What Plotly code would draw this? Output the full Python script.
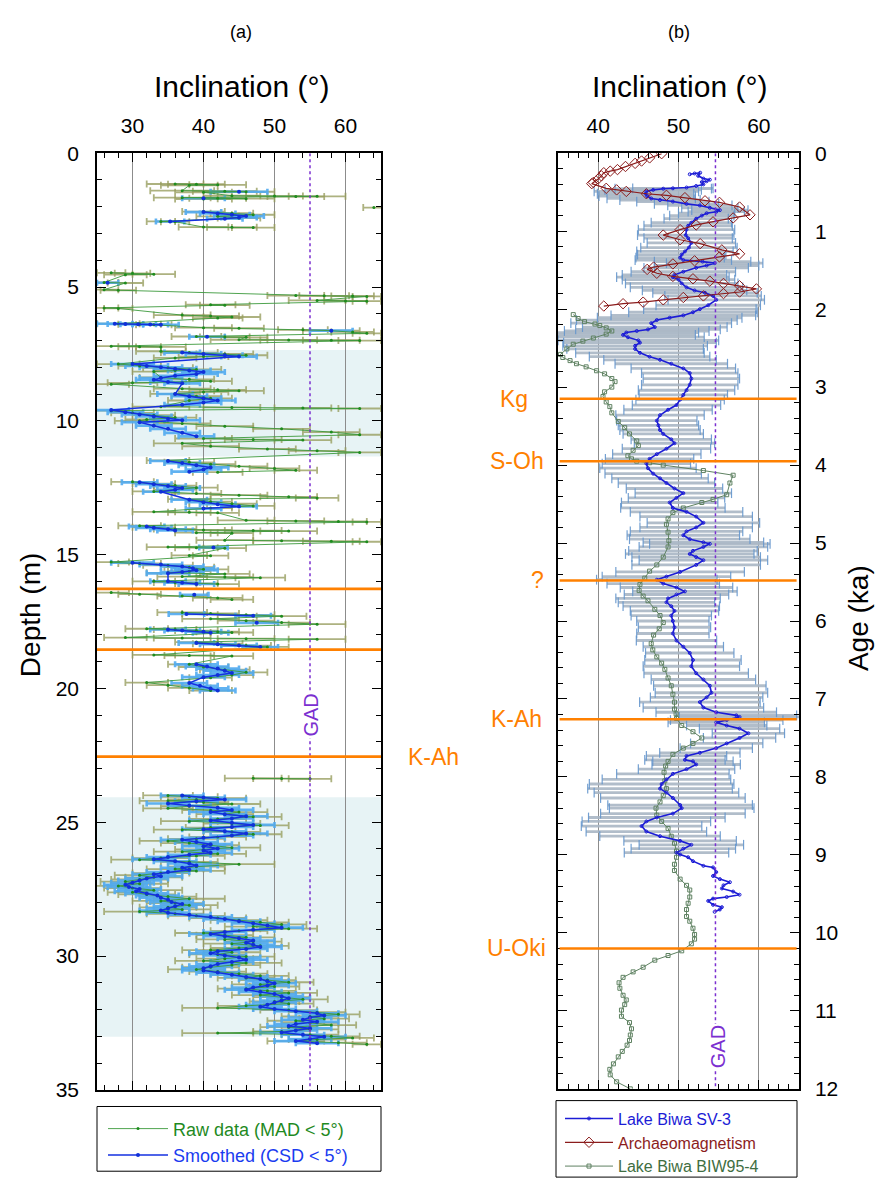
import plotly.graph_objects as go

# ---------------- Panel (a): depth profile ----------------
raw_depth = [
    1.15, 1.16, 1.18, 1.20, 1.40, 1.42, 1.44, 1.46, 1.59, 1.60, 1.61, 1.62, 1.66, 1.68, 1.70, 1.71, None,
    2.03, None,
    2.18, 2.24, 2.30, 2.36, 2.42, 2.55, 2.56, 2.76, 2.77, 2.78, None,
    4.47, 4.49, 4.52, 4.54, 4.83, 4.85, 5.10, 5.12, 5.32, 5.33, 5.34, 5.35, 5.50, 5.52, 5.53, 5.66, 5.68, 5.78, 5.80,
    6.05, 6.08, 6.12, 6.16, 6.37, 6.39, 6.41, 6.52, 6.54, 6.60, 6.63, 6.68, 6.73, 6.85, 6.87, 6.88, 6.97, 6.98, 6.99, 7.00,
    7.21, 7.23, 7.24,
    7.40, 7.45, 7.50, 7.55, 7.60, 7.65, 7.88, 7.95, 8.02, 8.08, 8.12, 8.16, 8.38, 8.45, 8.52, 8.58, 8.63,
    8.80, 8.84, 8.88, 8.92, 8.99, 9.08, 9.16, 9.24, 9.47, 9.50, 9.52, 9.54,
    9.62, 9.70, 9.79, 9.88, 9.95, 10.00, 10.10, 10.20, 10.30, 10.42, 10.52, 10.66, 10.70, 10.72,
    10.84, 10.95, 11.05, 11.12, 11.18, 11.48, 11.55, 11.62, 11.70, 11.78, 11.85, 11.92, None,
    12.28, 12.35, 12.42, 12.50, 12.57, 12.64, 12.72, 12.78, 12.84, 12.88,
    12.93, 13.02, 13.10, 13.18, 13.26, 13.40, 13.42, 13.44, 13.72, 13.74, 13.76, 13.78,
    13.92, 13.98, 14.04, 14.08, 14.10, 14.12, 14.18, 14.20, 14.46, 14.48, 14.50, 14.52,
    14.72, 14.74, 14.76, 15.03, 15.04,
    15.28, 15.33, 15.40, 15.47, 15.55, 15.62, 15.68, 15.72, 15.82, 15.84, 15.86, 16.00, 16.04, 16.08, 16.10, None,
    16.42, 16.48, 16.55, 16.62, 16.68, None,
    17.16, 17.20, 17.25, 17.30, 17.40, 17.47, 17.54, 17.60, 17.77, 17.80, 17.84, 17.88, 17.91,
    18.10, 18.12, 18.14, 18.16, 18.27, 18.33, 18.40, 18.45, 18.75, 18.77, 18.79,
    19.10, 19.20, 19.30, 19.40, 19.50, 19.60, 19.78, 19.88, 19.98, 20.08, None,
    23.36, 23.37, 23.38, None,
    24.00, 24.05, 24.10, 24.15, 24.20, 24.25, 24.32, 24.40, 24.48, 24.55,
    24.62, 24.70, 24.80, 24.88, 24.96, 25.05, 25.12, 25.20, 25.28, 25.36,
    25.45, 25.55, 25.62, 25.70, 25.78, 25.86, 25.95, 26.02, 26.10, 26.18,
    26.26, 26.34, 26.40, 26.48, 26.57, 26.66, 26.75, 26.82, 26.90, 26.98,
    27.06, 27.14, 27.22, 27.30, 27.38, 27.46, 27.54, 27.62, 27.70, 27.78,
    27.86, 27.94, 28.02, 28.10, 28.18, 28.26, 28.34, 28.42, 28.50, 28.58,
    28.66, 28.74, 28.82, 28.90, 28.98, 29.06, 29.14, 29.22, 29.30, 29.38,
    29.46, 29.54, 29.62, 29.70, 29.78, 29.86, 29.94, 30.02, 30.10, 30.18,
    30.26, 30.34, 30.42, 30.50, 30.58, 30.66, 30.74, 30.82, 30.90, 30.98,
    31.06, 31.14, 31.22, 31.30, 31.38, 31.46, 31.54, 31.62, 31.70, 31.78,
    31.86, 31.94, 32.02, 32.10, 32.18, 32.26, 32.34, 32.42, 32.50, 32.58,
    32.66, 32.74, 32.82, 32.88, 32.94, 33.00, 33.06, 33.12, 33.18, 33.24,
    33.30,
]
raw_inc = [
    36, 39, 42, 38, 37, 43, 46, 40, 44, 50, 56, 53, 37, 42, 46, 40, None,
    64, None,
    40, 44, 47, 42, 45, 34, 36, 40, 44, 47, None,
    27, 30, 33, 29, 26, 29, 26, 28, 53, 57, 61, 63, 56, 60, 63, 41, 43, 26, 28,
    37, 41, 44, 42, 28, 31, 33, 40, 45, 54, 58, 61, 63, 39, 43, 46, 45, 52, 58, 62,
    27, 31, 34,
    34, 38, 43, 46, 40, 36, 28, 31, 35, 39, 36, 33, 34, 38, 41, 30, 27,
    37, 42, 45, 40, 36, 39, 41, 38, 34, 44, 54, 62,
    27, 30, 33, 36, 32, 31, 37, 43, 51, 58, 62, 40, 47, 54,
    37, 41, 49, 56, 62, 35, 38, 41, 45, 50, 53, 42, None,
    30, 33, 36, 39, 36, 33, 39, 45, 52, 56,
    38, 41, 44, 47, 41, 33, 38, 42, 46, 53, 59, 63,
    31, 33, 36, 40, 47, 52, 39, 44, 43, 51, 58, 63,
    35, 39, 43, 38, 41,
    27, 31, 35, 38, 40, 38, 35, 43, 37, 43, 48, 33, 36, 39, 42, None,
    27, 31, 37, 42, 44, None,
    37, 41, 46, 51, 41, 46, 51, 56, 32, 36, 39, 42, 44,
    29, 37, 46, 56, 39, 42, 46, 49, 33, 38, 44,
    38, 40, 43, 46, 44, 41, 32, 35, 38, 41, None,
    47, 51, 55, None,
    35, 38, 42, 39, 35, 40, 44, 38, 35, 41,
    45, 43, 47, 42, 38, 44, 48, 41, 37, 44,
    47, 42, 39, 35, 38, 41, 44, 40, 37, 42,
    39, 34, 31, 38, 45, 39, 36, 39, 34, 31,
    33, 31, 29, 31, 28, 30, 33, 30, 32, 35,
    38, 34, 36, 38, 35, 37, 31, 36, 39, 42,
    45, 48, 51, 47, 52, 45, 40, 43, 46, 43,
    47, 44, 48, 45, 41, 44, 42, 46, 43, 40,
    46, 44, 41, 39, 42, 45, 48, 46, 49, 52,
    48, 50, 46, 49, 52, 48, 51, 54, 50, 52,
    46, 42, 52, 56, 59, 55, 57, 53, 55, 58,
    52, 55, 51, 42, 55, 58, 61, 56, 53, 59,
    63,
]
raw_err = [
    4, 4, 4, 4, 4.5, 4.5, 4, 4, 4, 4, 4, 4, 4, 4, 4, 4, None,
    1.5, None,
    3, 3, 3, 3, 3, 2, 2, 3.5, 3.5, 3, None,
    2, 2.5, 3, 3, 2, 2.5, 2, 2.5, 4, 3.5, 3, 2, 4, 3, 2, 3.5, 3.5, 2, 2,
    4, 4, 4, 3.5, 3, 3, 2.5, 4, 3.5, 3.5, 4, 3, 2, 3.5, 3.5, 3, 4, 4, 4, 3,
    2.5, 3, 3.5,
    3.5, 4, 4, 3, 3.5, 3, 3, 3, 3.5, 3.5, 3, 3, 3, 3.5, 3, 3.5, 2.5,
    4, 4, 3.5, 3.5, 3.5, 3.5, 3, 3, 4, 4, 4, 3,
    2.5, 3, 3, 3, 3, 3.5, 4, 4, 4, 4, 3, 4, 4, 4,
    4, 4, 4, 4, 3, 3, 3.5, 3.5, 4, 3.5, 3, 3.5, None,
    3, 3, 3, 3, 3, 3, 3.5, 4, 4, 3,
    3, 3, 3.5, 3, 3, 3, 3, 3, 4, 4, 4, 2,
    3, 3, 3, 4, 4, 4, 3, 3, 4, 4, 4, 2,
    3, 3, 3, 2.5, 2.5,
    2.5, 3, 3.5, 3.5, 3.5, 3, 3, 3.5, 3.5, 4, 3.5, 3, 3, 3, 3, None,
    2.5, 3, 3.5, 3.5, 3, None,
    3.5, 4, 4, 3.5, 4, 4, 4, 4, 3, 3, 3, 3, 3,
    3, 4, 4, 4, 3, 3.5, 3.5, 3, 3, 3.5, 3,
    3, 3.5, 3.5, 3, 3, 3, 3, 3, 3, 3, None,
    4, 4, 3, None,
    3.5, 4, 4, 4, 4, 3.5, 4, 4, 3.5, 4,
    4, 4, 4, 4, 4, 4, 4, 3.5, 4, 4,
    4, 4, 4, 4, 4, 4, 4, 4, 4, 4,
    4, 4, 4, 4, 5, 4, 4, 4, 4, 3.5,
    4, 4, 3.5, 4, 3.5, 4, 4, 3.5, 4, 4,
    5, 4, 4, 4, 4, 4, 5, 4, 4, 4,
    4, 4, 3.5, 4, 4, 4, 4, 4, 4, 4,
    4, 4, 4, 4, 4, 4, 4, 4, 4, 4,
    5, 4, 4, 4, 4, 4, 4, 4, 4, 3.5,
    4, 3.5, 4, 4, 4, 4, 4, 3.5, 3.5, 3.5,
    4, 5, 4, 4, 3, 4, 3.5, 4, 4, 3.5,
    4, 4, 4, 5, 4, 4, 3, 4, 4, 4,
    2,
]

smooth_depth = [
    1.44, None, 1.68, None,
    2.20, 2.25, 2.30, 2.35, 2.40, 2.45, 2.55, None,
    4.84, None,
    6.37, 6.38, 6.39, 6.40, 6.41, None,
    6.63, None, 6.86, None,
    7.45, 7.50, 7.55, 7.60,
    7.88, 7.95, 8.00, 8.05, 8.12, 8.18, 8.25, 8.32, 8.40,
    8.47, 8.55, 8.60,
    9.00, 9.08, 9.16, 9.24, 9.32, 9.40,
    9.60, 9.68, 9.76, 9.84, 9.92, 9.98,
    10.05, 10.18, 10.30, 10.45, 10.58, None,
    11.50, 11.58, 11.66, 11.74, 11.82, 11.90, None,
    12.30, 12.37, 12.44, 12.51, 12.58, 12.65,
    12.95, 13.04, 13.12, 13.20, 13.28, None,
    13.95, 14.00, 14.05, 14.10, None,
    14.73, None,
    15.30, 15.37, 15.44, 15.51, 15.58, 15.65, 15.70,
    16.00, 16.05, 16.10, None,
    16.50, None,
    17.22, 17.28, None, 17.55, None,
    17.80, 17.84, 17.88, 17.92, None,
    18.30, 18.35, 18.40, 18.45, None,
    19.10, 19.18, 19.26, 19.34, 19.42, 19.50, 19.58,
    19.80, 19.90, 20.00, 20.08, None,
    24.00, 24.08, 24.15, 24.22, 24.30, 24.38, 24.46, 24.54, 24.62, 24.70,
    24.78, 24.86, 24.94, 25.02, 25.10, 25.18, 25.26, 25.34, 25.42, 25.50,
    25.58, 25.66, 25.74, 25.82, 25.90, 25.98, 26.06, 26.14, 26.22, 26.30,
    26.38, 26.46, 26.54, 26.62, 26.70, 26.78, 26.86, 26.94, 27.02, 27.10,
    27.18, 27.26, 27.34, 27.42, 27.50, 27.58, 27.66, 27.74, 27.82, 27.90,
    27.98, 28.06, 28.14, 28.22, 28.30, 28.38, 28.46, 28.54, 28.62, 28.70,
    28.78, 28.86, 28.94, 29.02, 29.10, 29.18, 29.26, 29.34, 29.42, 29.50,
    29.58, 29.66, 29.74, 29.82, 29.90, 29.98, 30.06, 30.14, 30.22, 30.30,
    30.38, 30.46, 30.54, 30.62, 30.70, 30.78, 30.86, 30.94, 31.02, 31.10,
    31.18, 31.26, 31.34, 31.42, 31.50, 31.58, 31.66, 31.74, 31.82, 31.90,
    31.98, 32.06, 32.14, 32.22, 32.30, 32.38, 32.46, 32.54, 32.62, 32.70,
    32.78, 32.86, 32.94, 33.02, 33.10, 33.18, 33.26,
]
smooth_inc = [
    45, None, 40, None,
    40, 42, 44, 46, 45, 43, 35.3, None,
    26.5, None,
    27.5, 29, 30.8, 32.5, 34, None,
    58, None, 40.5, None,
    37, 40, 43, 45,
    30, 32, 34, 36, 38, 40, 39, 36, 34,
    33, 35, 37,
    36, 38, 40, 42, 40, 37,
    27, 29, 31, 33, 35, 37,
    31, 33, 35, 37, 39, None,
    35, 37, 39, 41, 40, 38, None,
    31, 33, 35, 37, 36, 34,
    38, 40, 42, 45, 40, None,
    32, 33, 35, 36, None,
    41.4, None,
    30, 34, 37, 38.5, 39, 37, 35,
    35, 37, 39, None,
    38.7, None,
    37.6, 47, None, 47.5, None,
    35, 37, 40, 41, None,
    39, 42, 45, 48, None,
    39, 40.5, 42, 43, 44, 42, 40,
    38, 39.5, 41, 42, None,
    37, 40, 43, 39, 35, 38, 42, 44, 41, 43,
    46, 44, 41, 44, 47, 44, 40, 43, 46, 44,
    40, 37, 39, 41, 40, 42, 40, 41, 38, 35,
    33, 36, 38, 39, 37, 38, 35, 33, 34, 32,
    31, 30, 29, 29.5, 31, 30.5, 32, 33.5, 34, 35,
    35.5, 37, 36, 35, 34, 35, 38, 41, 43, 45,
    47, 49, 51, 47, 43, 41, 43, 45, 47, 46,
    47, 48, 46, 42, 41, 43, 45, 46, 44, 42,
    41, 40, 40, 42, 44, 46, 48, 49, 50, 49,
    47, 46, 48, 50, 51, 52, 51, 50, 49, 48,
    50, 53, 56, 57, 55, 54, 56, 53, 52, 55,
    53, 51, 54, 57, 55, 53, 56,
]
smooth_err = [
    4, None, 3, None,
    2.5, 2.5, 2.5, 2.5, 2.5, 2.5, 2, None,
    1.5, None,
    2.5, 2.5, 2.5, 2.5, 2.5, None,
    3, None, 2.5, None,
    2.5, 2.5, 2.5, 2.5,
    3, 3, 3, 3, 3, 3, 3, 3, 3,
    2.5, 2.5, 2.5,
    2.5, 2.5, 2.5, 2.5, 2.5, 2.5,
    2.5, 2.5, 2.5, 2.5, 2.5, 2.5,
    2.5, 2.5, 2.5, 2.5, 2.5, None,
    2.5, 2.5, 2.5, 2.5, 2.5, 2.5, None,
    2.5, 2.5, 2.5, 2.5, 2.5, 2.5,
    2.5, 2.5, 2.5, 2.5, 2.5, None,
    2.5, 2.5, 2.5, 2.5, None,
    2, None,
    3, 3, 3, 3, 3, 3, 3,
    2.5, 2.5, 2.5, None,
    2, None,
    2.5, 2.5, None, 3, None,
    2.5, 2.5, 2.5, 2.5, None,
    2.5, 2.5, 2.5, 2.5, None,
    3, 3, 3, 3, 3, 3, 3,
    2.5, 2.5, 2.5, 2.5, None,
    3, 3, 3, 3, 3, 3, 3, 3, 3, 3,
    3, 3, 3, 3, 3, 3, 3, 3, 3, 3,
    3, 3, 3, 3, 3, 3, 3, 3, 3, 3,
    3, 3, 3, 3, 3, 3, 3, 3, 3, 3,
    3, 3, 3, 3, 3, 3, 3, 3, 3, 3,
    3, 3, 3, 3, 3, 3, 3, 3, 3, 3,
    3, 3, 3, 3, 3, 3, 3, 3, 3, 3,
    3, 3, 3, 3, 3, 3, 3, 3, 3, 3,
    3, 3, 3, 3, 3, 3, 3, 3, 3, 3,
    3, 3, 3, 3, 3, 3, 3, 3, 3, 3,
    3, 3, 3, 3, 3, 3, 3, 3, 3, 3,
    3, 3, 3, 3, 3, 3, 3,
]

shade_top = [7.35, 11.33]
shade_bottom = [24.07, 33.02]
tephra_a = [16.28, 18.55]
kah_depth = 22.55
gad_a = 55.0

# ---------------- Panel (b): age profile ----------------
sv3_age = [
    0.27, 0.26, 0.25, 0.29, 0.325, 0.34, 0.36, 0.37, 0.40, 0.42, 0.44,
    0.45, 0.455, 0.47, 0.49, 0.52, 0.55, 0.58, 0.60, 0.62, 0.65, 0.67, 0.70, 0.73, 0.75, 0.77,
    0.80, 0.84, 0.89, 0.93, 0.98, 1.05, 1.09, 1.15, 1.21, 1.26, 1.30, 1.34, 1.37, 1.39, 1.41,
    1.44, 1.47, 1.52, 1.56, 1.59, 1.62, 1.67, 1.72, 1.76, 1.79, 1.83, 1.88, 1.95, 2.00, 2.04,
    2.08, 2.11, 2.14, 2.18, 2.23, 2.26, 2.28, 2.30, 2.33, 2.36, 2.40, 2.43, 2.47, 2.51, 2.56,
    2.61, 2.65, 2.70, 2.76, 2.82, 2.89, 2.97, 3.04, 3.10, 3.16, 3.23, 3.29, 3.36, 3.43, 3.49, 3.55,
    3.60, 3.67, 3.72, 3.79, 3.86, 3.92, 3.98, 4.04, 4.11, 4.17, 4.23, 4.30, 4.36, 4.42, 4.48,
    4.55, 4.60, 4.66, 4.74, 4.80, 4.85, 4.90, 4.95, 4.99, 5.01, 5.05, 5.10, 5.14, 5.18, 5.22,
    5.28, 5.37, 5.43, 5.47, 5.52, 5.57, 5.62, 5.66, 5.71, 5.76, 5.81, 5.87, 5.93, 6.00, 6.08,
    6.16, 6.25, 6.33, 6.41, 6.50, 6.58, 6.67, 6.75, 6.83, 6.92, 6.98, 7.04, 7.11, 7.17, 7.21,
    7.23, 7.27, 7.30, 7.34,
    7.38, 7.44, 7.50, 7.57, 7.63, 7.69, 7.73, 7.78, 7.80, 7.84, 7.90, 7.96, 8.03, 8.09, 8.15,
    8.20, 8.27, 8.36, 8.40, 8.47, 8.52, 8.57, 8.63, 8.70, 8.76, 8.82, 8.87, 8.92, 8.97,
    8.995, 9.03, 9.08, 9.14, 9.16, 9.22, 9.27, 9.31, 9.35, 9.39, 9.43, 9.47, 9.51, 9.54, 9.56,
    9.59, 9.64, 9.67, 9.70, 9.73,
]
sv3_inc = [
    51.4, 52.0, 52.7, 52.45, 53.1, 53.9, 53.5, 52.9, 53.1, 52.2, 51.0,
    49.3, 48.1, 46.85, 46.0, 45.9, 46.1, 46.6, 47.7, 49.3, 51.0, 52.66, 53.9, 55.15, 54.7, 53.5,
    52.9, 52.2, 51.6, 51.2, 51.0, 50.9, 51.2, 51.6, 51.3, 50.8, 50.4, 50.2, 50.6, 53.0, 54.5,
    53.5, 52.2, 50.6, 49.5, 49.3, 50.0, 50.4, 51.0, 52.0, 53.3, 54.3, 54.7, 53.7, 52.66, 51.8,
    50.6, 48.9, 47.3, 46.6, 47.05, 46.2, 44.8, 43.5, 43.1, 43.7, 45.0, 45.2, 44.6, 44.6, 45.2,
    46.4, 47.7, 49.1, 50.6, 51.4, 51.6, 51.4, 51.0, 50.6, 50.2, 49.75, 48.7, 47.7, 47.3, 47.5, 47.7,
    48.1, 49.1, 49.5, 48.5, 47.3, 46.4, 46.0, 46.2, 46.85, 47.7, 48.5, 49.5, 50.6, 49.75, 48.9,
    49.3, 51.0, 52.2, 53.1, 52.2, 51.0, 50.6, 51.4, 53.1, 53.9, 53.1, 51.8, 51.4, 52.2, 53.1,
    52.2, 50.2, 48.5, 47.3, 48.1, 49.75, 50.8, 49.75, 48.7, 48.5, 49.1, 49.5, 49.1, 49.3, 49.5,
    49.3, 49.75, 50.6, 51.4, 51.8, 51.6, 52.2, 53.1, 53.9, 54.1, 53.5, 52.66, 53.1, 54.7, 57.2,
    57.6, 56.0, 54.7, 56.0,
    57.6, 58.7, 57.6, 56.0, 54.7, 52.66, 51.0, 50.8, 51.8, 52.2, 51.0, 49.3, 48.5, 47.9, 47.7,
    48.5, 49.3, 50.2, 50.4, 49.3, 47.3, 46.0, 45.4, 46.0, 47.7, 50.2, 51.6, 50.6, 49.75,
    50.2, 51.2, 51.8, 53.1, 54.3, 54.7, 54.3, 55.15, 56.4, 55.6, 55.4, 56.8, 57.6, 56.0, 54.3,
    53.7, 54.3, 55.4, 55.15, 54.5,
]
sv3_err = [
    None, None, None, None, None, None, None, None, None, None, None,
    5, 6, 6, 6.5, 6, 6, 5.5, 5, 4.5, 4, 4, 3.5, 3.5, 3.5, 3.5,
    4, 4, 5, 5.5, 6, 6, 5.5, 5.5, 6, 6, 5.5, 5.5, 6, 6, 6,
    6.5, 6.5, 6.5, 6.5, 7, 7, 7, 7, 6.5, 6.5, 6, 6, 6.5, 7, 8,
    9, 9, 10, 10, 9, 9, 9, 9, 9, 9.5, 10, 9.5, 9, 8.5, 8,
    7.5, 7, 7, 6.5, 6, 6, 6, 6, 5.5, 5.5, 5.5, 5.5, 5.5, 5, 5, 5,
    5, 5, 5, 5.5, 5.5, 5.5, 5.5, 6, 6, 6, 6, 6, 6, 6, 6,
    6.5, 7, 7, 7, 7, 7, 7, 7.5, 7.5, 7.5, 8, 8, 8, 8, 8,
    8, 8, 8, 7.5, 7, 7, 6.5, 6.5, 6.5, 6, 6, 5.5, 5, 4.5, 4.5,
    4.5, 5, 5, 5.5, 6, 6, 6.5, 6.5, 7, 7, 7, 7.5, 7.5, 7.5, 7.5,
    7.5, 7, 6, 5,
    5, 4.5, 4.5, 4.5, 4.5, 5, 5, 5, 5, 5.5, 6, 7, 8, 9, 9,
    9, 9, 9, 9, 9, 8.5, 8, 7.5, 7.5, 7.5, 7, 6.5, 6.5, 6.5,
    None, None, None, None, None, None, None, None, None, None, None, None, None, None, None,
    None, None, None, None, None,
]

arch_age = [
    0.006, 0.06, 0.10, 0.13, 0.17, 0.21, 0.23, 0.25, 0.29, 0.33, 0.375, 0.39, 0.45, 0.47, 0.49,
    0.52, 0.54, 0.57, 0.61, 0.63, 0.69, 0.79, 0.83, 0.88, 0.92, 0.98, 1.05, 1.11, 1.16, 1.24,
    1.29, 1.33, 1.38, 1.42, 1.46, 1.49, 1.54, 1.58, 1.61, 1.64, 1.67, 1.70, 1.74, 1.78, 1.80,
    1.83, 1.85, 1.88, 1.91, 1.93, 1.96,
]
arch_inc = [
    47.9, 46.4, 45.4, 44.6, 43.4, 42.4, 41.5, 40.7, 40.4, 40.0, 39.4, 39.2, 41.0, 42.3, 43.5,
    46.0, 48.5, 50.8, 53.3, 55.1, 57.6, 58.9, 56.8, 54.3, 52.2, 50.2, 48.1, 50.2, 52.7, 55.4,
    57.6, 55.1, 52.0, 49.3, 46.9, 46.1, 47.3, 49.3, 51.8, 53.9, 55.6, 57.6, 59.7, 57.6, 55.6,
    53.1, 50.6, 48.1, 45.6, 43.1, 40.7,
]

biw_age = [
    2.07, 2.12, 2.16, 2.19, 2.21, 2.24, 2.28, 2.32, 2.37, 2.41, 2.45, 2.51, 2.58, 2.62, 2.66,
    2.70, 2.74, 2.79, 2.83, 2.89, 2.93, 3.00, 3.06, 3.12, 3.19, 3.25, 3.33, 3.44, 3.52, 3.60,
    3.69, 3.75, 3.81, 3.88, 3.92, 3.95, 3.97, 4.00, 4.07, 4.13, 4.23, 4.38, 4.44, 4.48, 4.55,
    4.61, 4.69, 4.76, 4.86, 4.97, 5.05, 5.18, 5.28, 5.36, 5.45, 5.53, 5.61, 5.68, 5.74, 5.85,
    5.93, 6.02, 6.10, 6.18, 6.29, 6.37, 6.46, 6.54, 6.62, 6.73, 6.83, 6.94, 7.04, 7.13, 7.19,
    7.25, 7.34, 7.42, 7.50, 7.57, 7.63, 7.71, 7.80, 7.86, 7.94, 8.05, 8.15, 8.24, 8.32, 8.40,
    8.49, 8.57, 8.66, 8.76, 8.85, 8.95, 9.03, 9.12, 9.20, 9.31, 9.39, 9.45, 9.54, 9.62, 9.70,
    9.79, 9.85, 9.94, 10.02, 10.08, 10.14, 10.23, 10.29, 10.35, 10.44, 10.50, 10.57, 10.64, 10.71, 10.80,
    10.86, 10.92, 10.99, 11.07, 11.15, 11.23, 11.31, 11.38, 11.44, 11.52, 11.59, 11.68, 11.75, 11.82, 11.91,
    12.0,
]
biw_inc = [
    36.9, 37.5, 38.3, 39.6, 40.2, 41.0, 41.7, 41.0, 39.4, 38.1, 36.9, 36.1, 35.3, 35.6, 36.5,
    37.3, 38.5, 39.8, 40.8, 41.7, 42.1, 41.7, 40.8, 40.6, 41.0, 41.45, 41.7, 42.5, 43.3, 43.9,
    44.8, 45.0, 44.35, 43.7, 44.15, 44.8, 46.4, 48.1, 53.1, 56.8, 56.4, 56.0, 54.3, 52.9, 50.6,
    49.3, 48.7, 48.5, 48.7, 48.8, 48.7, 48.1, 47.3, 46.4, 45.8, 45.2, 45.1, 45.6, 46.2, 47.05,
    47.7, 48.1, 47.6, 46.9, 46.6, 46.8, 47.3, 47.9, 48.3, 48.7, 49.1, 49.3, 49.5, 49.5, 49.7,
    49.75, 50.4, 51.8, 52.9, 51.8, 50.6, 49.3, 48.7, 48.4, 48.2, 48.3, 48.5, 48.1, 47.7, 47.2,
    47.3, 47.9, 48.7, 49.1, 49.5, 49.75, 49.75, 49.5, 49.5, 50.2, 51.0, 51.4, 51.4, 51.2, 51.0,
    51.0, 51.4, 51.8, 52.0, 52.0, 51.6, 50.4, 48.7, 47.05, 45.6, 44.35, 43.1, 42.6, 42.7, 43.1,
    43.5, 43.3, 42.9, 42.9, 43.9, 44.15, 44.0, 43.9, 43.6, 43.0, 42.5, 41.9, 41.45, 41.5, 42.3,
    44.0,
]

tephra_b_age = [3.15, 3.95, 5.48, 7.26, 10.2]
tephra_b_name = ["Kg", "S-Oh", "?", "K-Ah", "U-Oki"]
tephra_b_xpx = [514, 517, 537, 516, 516]
gad_b = 54.6

assert len(raw_depth) == len(raw_inc) == len(raw_err)
assert len(smooth_depth) == len(smooth_inc) == len(smooth_err)
assert len(sv3_age) == len(sv3_inc) == len(sv3_err)
assert len(arch_age) == len(arch_inc)
assert len(biw_age) == len(biw_inc)

# ---------------- layout helpers ----------------
W, H = 882, 1193
FONT = "Liberation Sans, Arial, Helvetica, sans-serif"
ORANGE = "#ff8000"
PURPLE = "#7b2fd0"


def fx(p):
    return p / W


def fy(p):
    return 1 - p / H


fig = go.Figure()

# Panel (a)
fig.add_trace(go.Scatter(
    x=raw_inc, y=raw_depth, mode="markers", xaxis="x", yaxis="y",
    marker=dict(size=1, color="rgba(0,0,0,0)"),
    error_x=dict(type="data", array=raw_err, color="rgba(150,156,92,0.78)", thickness=1.8, width=3.5),
    showlegend=False, hoverinfo="skip"))
fig.add_trace(go.Scatter(
    x=smooth_inc, y=smooth_depth, mode="markers", xaxis="x", yaxis="y",
    marker=dict(size=1, color="rgba(0,0,0,0)"),
    error_x=dict(type="data", array=smooth_err, color="rgba(80,170,240,0.9)", thickness=2.6, width=3),
    showlegend=False, hoverinfo="skip"))
fig.add_trace(go.Scatter(
    x=raw_inc, y=raw_depth, mode="lines+markers", xaxis="x", yaxis="y",
    line=dict(color="#3c9a3c", width=0.9),
    marker=dict(color="#1e8c1e", size=3),
    name='<span style="color:#1f8a1f">Raw data (MAD &lt; 5°)</span>', legend="legend"))
fig.add_trace(go.Scatter(
    x=smooth_inc, y=smooth_depth, mode="lines+markers", xaxis="x", yaxis="y",
    line=dict(color="#1530e0", width=1.5),
    marker=dict(color="#1030d8", size=4, symbol="circle"),
    name='<span style="color:#1a3cf0">Smoothed (CSD &lt; 5°)</span>', legend="legend"))

# Panel (b)
fig.add_trace(go.Scatter(
    x=sv3_inc, y=sv3_age, mode="markers", xaxis="x2", yaxis="y2",
    marker=dict(size=1, color="rgba(0,0,0,0)"),
    error_x=dict(type="data", array=sv3_err, color="rgba(168,182,196,0.9)", thickness=2.8, width=0),
    showlegend=False, hoverinfo="skip"))
cap_x = [i - e for i, e in zip(sv3_inc, sv3_err) if e is not None] + \
        [i + e for i, e in zip(sv3_inc, sv3_err) if e is not None]
cap_y = [a for a, e in zip(sv3_age, sv3_err) if e is not None] * 2
fig.add_trace(go.Scatter(
    x=cap_x, y=cap_y, mode="markers", xaxis="x2", yaxis="y2",
    marker=dict(symbol="line-ns", size=7, line=dict(color="rgba(100,150,205,0.9)", width=1.2)),
    showlegend=False, hoverinfo="skip"))
fig.add_trace(go.Scatter(
    x=biw_inc, y=biw_age, mode="lines+markers", xaxis="x2", yaxis="y2",
    line=dict(color="#5f8262", width=1),
    marker=dict(symbol="square-open", size=4, color="#5f8262", line=dict(width=1)),
    name='<span style="color:#3f6e42">Lake Biwa BIW95-4</span>', legend="legend2", legendrank=3))
fig.add_trace(go.Scatter(
    x=sv3_inc, y=sv3_age, mode="lines+markers", xaxis="x2", yaxis="y2",
    line=dict(color="#1c1cd6", width=1.6),
    marker=dict(symbol="circle-open", size=3, color="#1c1cd6"),
    name='<span style="color:#1c1cd6">Lake Biwa SV-3</span>', legend="legend2", legendrank=1))
fig.add_trace(go.Scatter(
    x=arch_inc, y=arch_age, mode="lines+markers", xaxis="x2", yaxis="y2",
    line=dict(color="#8b1c1c", width=1.2),
    marker=dict(symbol="diamond-open", size=8, color="#8b1c1c", line=dict(width=1)),
    name='<span style="color:#8b1c1c">Archaeomagnetism</span>', legend="legend2", legendrank=2))

axis_common = dict(
    ticks="inside", ticklen=9, tickwidth=1.2, tickcolor="black",
    showline=True, linecolor="black", linewidth=1.5, mirror="allticks",
    zeroline=False, tickfont=dict(size=21, color="black", family=FONT),
)

shapes = []
for d0, d1 in (shade_top, shade_bottom):
    shapes.append(dict(type="rect", xref="x", yref="y", x0=25, x1=65, y0=d0, y1=d1,
                       fillcolor="#e7f3f5", line=dict(width=0), layer="below"))
shapes.append(dict(type="line", xref="x", yref="y", x0=gad_a, x1=gad_a, y0=0, y1=35,
                   line=dict(color=PURPLE, width=1.5, dash="dot")))
for d in tephra_a + [kah_depth]:
    shapes.append(dict(type="line", xref="x", yref="y", x0=25, x1=65, y0=d, y1=d,
                       line=dict(color=ORANGE, width=2.6)))
shapes.append(dict(type="line", xref="x2", yref="y2", x0=gad_b, x1=gad_b, y0=0, y1=12,
                   line=dict(color=PURPLE, width=1.5, dash="dot")))
for a in tephra_b_age:
    shapes.append(dict(type="line", xref="x2", yref="y2", x0=35.2, x1=64.7, y0=a, y1=a,
                       line=dict(color=ORANGE, width=2.6)))
# legend frames
shapes.append(dict(type="rect", xref="paper", yref="paper", x0=fx(97), x1=fx(381), y0=fy(1182), y1=fy(1116),
                   line=dict(color="black", width=1), fillcolor="rgba(0,0,0,0)"))
shapes.append(dict(type="rect", xref="paper", yref="paper", x0=fx(556), x1=fx(797), y0=fy(1188), y1=fy(1110),
                   line=dict(color="black", width=1), fillcolor="rgba(0,0,0,0)"))


def note(text, x, y, size, color="black", xref="paper", yref="paper", angle=0, bg=None):
    d = dict(text=text, x=x, y=y, xref=xref, yref=yref, showarrow=False, textangle=angle,
             xanchor="center", yanchor="middle", font=dict(size=size, color=color, family=FONT))
    if bg:
        d["bgcolor"] = bg
    return d


annotations = [
    note("(a)", fx(241), fy(20), 18),
    note("(b)", fx(679), fy(20), 18),
    note("Inclination (°)", fx(241), fy(76), 30),
    note("Inclination (°)", fx(679), fy(76), 30),
    note("Depth (m)", fx(30), fy(615), 28, angle=-90),
    note("Age (ka)", fx(858), fy(618), 28, angle=-90),
    note("GAD", 55.2, 21.0, 20, PURPLE, "x", "y", -90, "white"),
    note("GAD", 54.85, 11.46, 20, PURPLE, "x2", "y2", -90, "white"),
    note("K-Ah", fx(433), kah_depth, 23, ORANGE, "paper", "y"),
]
for name, a, xp in zip(tephra_b_name, tephra_b_age, tephra_b_xpx):
    annotations.append(note(name, fx(xp), a, 23, ORANGE, "paper", "y2"))

fig.update_layout(
    width=W, height=H, margin=dict(l=0, r=0, t=0, b=0),
    paper_bgcolor="white", plot_bgcolor="white",
    font=dict(family=FONT, color="black"),
    xaxis=dict(domain=[fx(97), fx(381)], range=[25, 65], side="top", anchor="y", dtick=10, tick0=0,
               showgrid=True, gridcolor="#8c8c8c", gridwidth=1, ticklabelstandoff=10,
               minor=dict(ticks="inside", ticklen=5, dtick=2, tick0=0, tickcolor="black", showgrid=False),
               **axis_common),
    yaxis=dict(domain=[fy(1099), fy(144)], range=[35, 0], anchor="x", dtick=5, tick0=0, showgrid=False,
               ticklabelstandoff=12,
               minor=dict(ticks="inside", ticklen=5, dtick=1, tick0=0, tickcolor="black", showgrid=False),
               **axis_common),
    xaxis2=dict(domain=[fx(558), fx(799)], range=[35, 65], side="top", anchor="y2", dtick=10, tick0=0,
                showgrid=True, gridcolor="#8c8c8c", gridwidth=1, ticklabelstandoff=10,
                minor=dict(ticks="inside", ticklen=5, dtick=1.25, tick0=35, tickcolor="black", showgrid=False),
                **axis_common),
    yaxis2=dict(domain=[fy(1098), fy(144)], range=[12, 0], anchor="x2", side="right", dtick=1, tick0=0,
                showgrid=False, ticklabelstandoff=10,
                minor=dict(ticks="inside", ticklen=5, dtick=0.2, tick0=0, tickcolor="black", showgrid=False),
                **axis_common),
    shapes=shapes,
    annotations=annotations,
    legend=dict(x=fx(103), y=fy(1120), xanchor="left", yanchor="top", bgcolor="rgba(0,0,0,0)",
                font=dict(size=18, family=FONT), itemwidth=60, tracegroupgap=0),
    legend2=dict(x=fx(560), y=fy(1111), xanchor="left", yanchor="top", bgcolor="rgba(0,0,0,0)",
                 font=dict(size=16, family=FONT), itemwidth=48, tracegroupgap=0),
    showlegend=True,
)

fig.write_html(
    "out.html",
    config={"displayModeBar": False},
    post_script="document.body.style.margin='0px'; document.body.style.overflow='hidden';",
)
